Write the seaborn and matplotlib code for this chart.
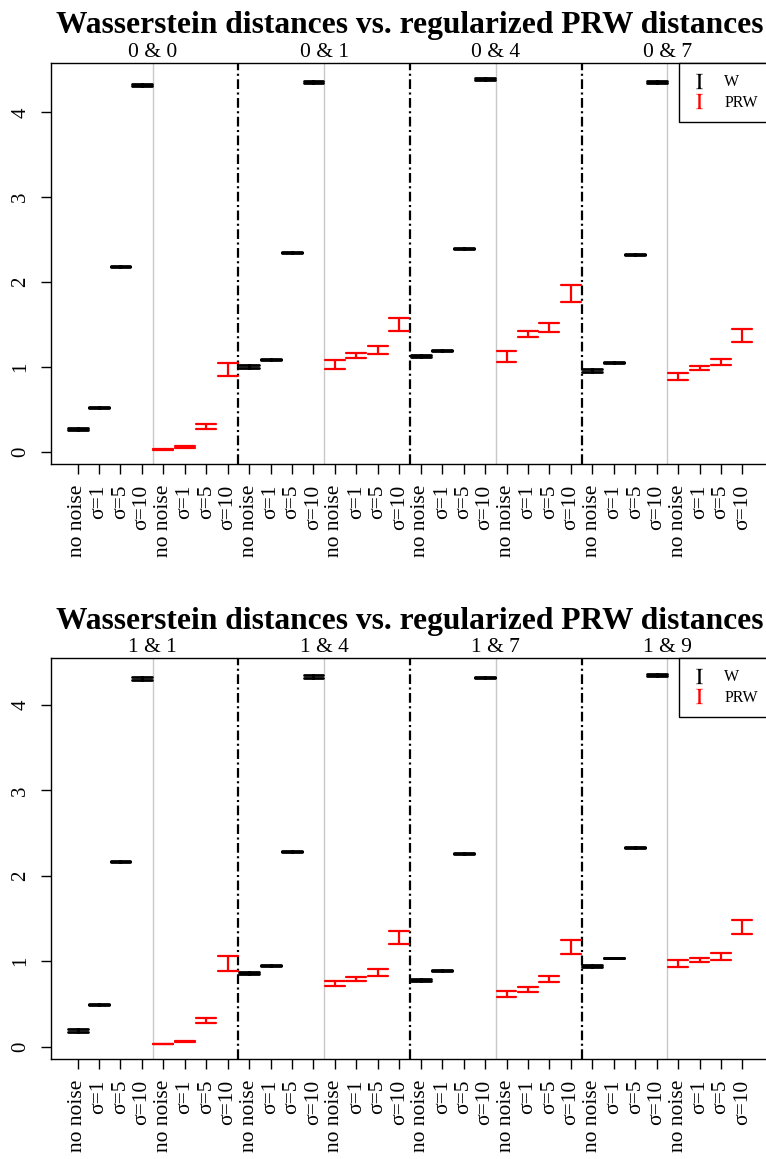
import numpy as np
import pandas as pd
import matplotlib
matplotlib.use("Agg")
import matplotlib.pyplot as plt
import seaborn as sns
from matplotlib.lines import Line2D

sns.set_style("white")
serif = ["Liberation Serif", "DejaVu Serif"]
plt.rcParams["font.family"] = serif
plt.rcParams["mathtext.fontset"] = "stix"
plt.rcParams["lines.scale_dashes"] = False
plt.rcParams["text.color"] = "black"
plt.rcParams["xtick.color"] = "black"
plt.rcParams["ytick.color"] = "black"

title = "Wasserstein distances vs. regularized PRW distances"
noise_labels = ["no noise", "σ=1", "σ=5", "σ=10"]
top_pairs = ["0 & 0", "0 & 1", "0 & 4", "0 & 7"]
bottom_pairs = ["1 & 1", "1 & 4", "1 & 7", "1 & 9"]

# values: centre and half-width of each interval
top_w_mean = [[0.27, 0.53, 2.19, 4.32], [1.01, 1.09, 2.35, 4.36],
              [1.13, 1.20, 2.40, 4.39], [0.96, 1.05, 2.33, 4.36]]
top_w_half = [[0.015, 0.005, 0.006, 0.015], [0.015, 0.005, 0.006, 0.012],
              [0.012, 0.005, 0.006, 0.008], [0.015, 0.005, 0.006, 0.01]]
top_prw_mean = [[0.03, 0.06, 0.30, 0.97], [1.03, 1.14, 1.205, 1.50],
                [1.125, 1.385, 1.465, 1.865], [0.894, 0.99, 1.057, 1.37]]
top_prw_half = [[0.005, 0.006, 0.03, 0.08], [0.05, 0.03, 0.045, 0.075],
                [0.067, 0.035, 0.053, 0.10], [0.04, 0.028, 0.037, 0.075]]

bottom_w_mean = [[0.19, 0.49, 2.17, 4.31], [0.86, 0.95, 2.29, 4.335],
                 [0.78, 0.893, 2.265, 4.32], [0.944, 1.037, 2.33, 4.355]]
bottom_w_half = [[0.02, 0.005, 0.006, 0.015], [0.015, 0.005, 0.006, 0.015],
                 [0.01, 0.005, 0.006, 0.01], [0.015, 0.005, 0.006, 0.012]]
bottom_prw_mean = [[0.03, 0.06, 0.305, 0.97], [0.741, 0.79, 0.868, 1.275],
                   [0.62, 0.67, 0.793, 1.168], [0.971, 1.017, 1.053, 1.40]]
bottom_prw_half = [[0.005, 0.006, 0.027, 0.086], [0.031, 0.024, 0.037, 0.075],
                   [0.035, 0.026, 0.037, 0.08], [0.043, 0.023, 0.039, 0.078]]


def build_frame(means, halves, offset):
    rows = []
    for g in range(4):
        for k in range(4):
            pos = 8 * g + offset + k + 1
            m, h = means[g][k], halves[g][k]
            rows.append({"pos": pos, "value": m - h})
            rows.append({"pos": pos, "value": m + h})
    return pd.DataFrame(rows)


def draw_panel(ax, pairs, w_mean, w_half, prw_mean, prw_half, ylim, title_y):
    df_w = build_frame(w_mean, w_half, 0)
    df_p = build_frame(prw_mean, prw_half, 4)

    for xv in [4.5, 12.5, 20.5, 28.5]:
        ax.axvline(xv, color="#c8c8c8", lw=1, zorder=0)
    for xv in [8.5, 16.5, 24.5]:
        ax.axvline(xv, color="black", lw=1.6, linestyle=(0, (7, 2.5, 1.5, 2.5)), zorder=1)

    sns.pointplot(data=df_w, x="pos", y="value", native_scale=True,
                  errorbar=("pi", 100), capsize=0.93, color="black",
                  linestyle="none", marker="", err_kws={"linewidth": 2}, ax=ax)
    sns.pointplot(data=df_p, x="pos", y="value", native_scale=True,
                  errorbar=("pi", 100), capsize=0.93, color="red",
                  linestyle="none", marker="", err_kws={"linewidth": 1.6}, ax=ax)

    ax.set_xlim(-0.24, 33.24)
    ax.set_ylim(*ylim)
    ax.set_xlabel("")
    ax.set_ylabel("")
    ax.set_xticks(range(1, 33))
    ax.set_xticklabels(noise_labels * 8, rotation=90, fontsize=15.5, family=serif)
    ax.set_yticks([0, 1, 2, 3, 4])
    ax.set_yticklabels(["0", "1", "2", "3", "4"], rotation=90, va="center",
                       fontsize=15, family=serif)
    ax.tick_params(axis="both", direction="out", length=7, width=1, color="black",
                   pad=8, bottom=True, left=True)
    for sp in ax.spines.values():
        sp.set_color("black")
        sp.set_linewidth(1)
        sp.set_visible(True)

    for i, lab in enumerate(pairs):
        ax.annotate(lab, xy=(8 * i + 4.5, 1), xycoords=("data", "axes fraction"),
                    xytext=(0, 7.5), textcoords="offset points",
                    ha="center", va="center", fontsize=15.5, family=serif)

    handles = [
        Line2D([], [], color="black", marker=r"$\mathrm{I}$", linestyle="none",
               markersize=11, markeredgewidth=0),
        Line2D([], [], color="red", marker=r"$\mathrm{I}$", linestyle="none",
               markersize=11, markeredgewidth=0),
    ]
    leg = ax.legend(handles, ["W", "PRW"], loc="upper right", bbox_to_anchor=(1, 1),
                    borderaxespad=0, fancybox=False, framealpha=1, edgecolor="black",
                    prop={"family": serif, "size": 11.5}, handlelength=1.0,
                    handletextpad=1.1, borderpad=0.7, labelspacing=0.3)
    leg.get_frame().set_linewidth(1)

    fig.text(0.535, title_y, title, ha="center", va="center",
             fontsize=22.7, fontweight="bold", family=serif)


fig = plt.figure(figsize=(7.66, 11.59), dpi=100)
ax_top = fig.add_axes([51 / 766, 1 - 464 / 1159, 718 / 766, 401 / 1159])
ax_bot = fig.add_axes([51 / 766, 1 - 1059 / 1159, 718 / 766, 401 / 1159])

draw_panel(ax_top, top_pairs, top_w_mean, top_w_half, top_prw_mean, top_prw_half,
           (-0.14, 4.58), 1 - 25 / 1159)
draw_panel(ax_bot, bottom_pairs, bottom_w_mean, bottom_w_half, bottom_prw_mean, bottom_prw_half,
           (-0.145, 4.55), 1 - 622 / 1159)

fig.savefig("out.png", dpi=100)
